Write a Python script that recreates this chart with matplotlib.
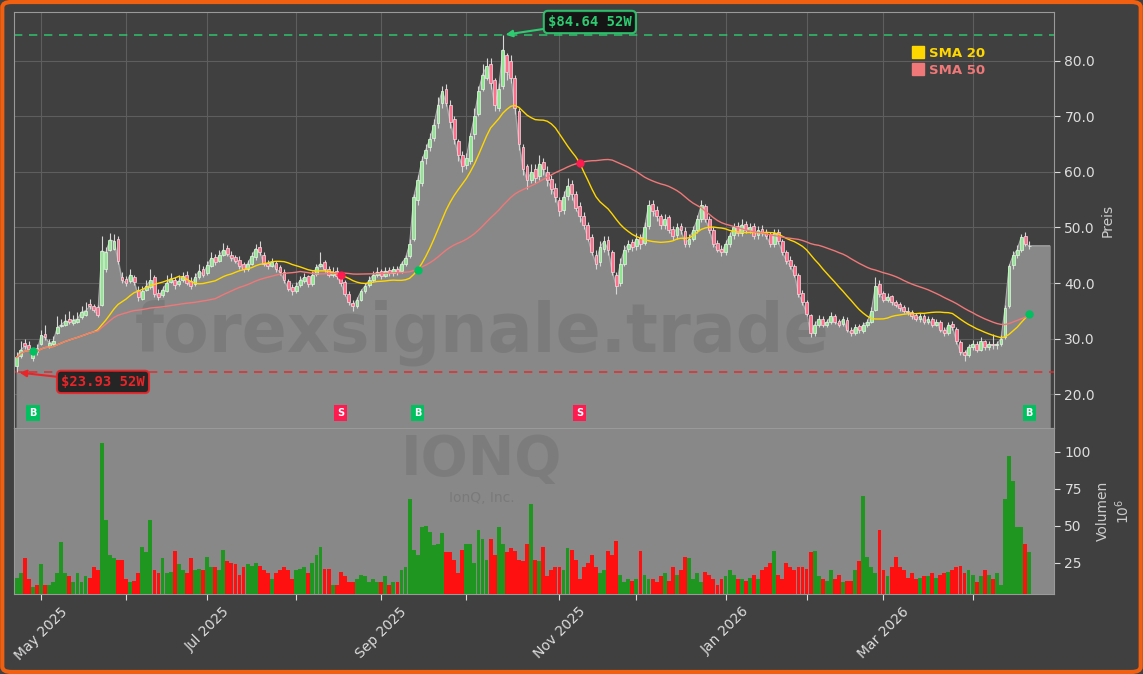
import numpy as np
import pandas as pd
import matplotlib
matplotlib.use("Agg")
import matplotlib.pyplot as plt
from matplotlib.patches import FancyBboxPatch
from matplotlib.lines import Line2D

ticker = "IONQ"
company = "IonQ, Inc."
watermark = "forexsignale.trade"
start_date = "2025-04-23"
holidays = ["2025-05-26", "2025-06-19", "2025-07-04", "2025-09-01", "2025-11-27",
            "2025-12-25", "2026-01-01", "2026-01-19", "2026-02-16", "2026-04-03"]

opens = [
    25.0, 26.8, 29.2, 28.8, 26.5, 28.3, 29.0, 30.9, 28.6, 29.0,
    31.0, 32.3, 32.4, 33.5, 32.8, 33.0, 33.8, 34.2, 36.3, 35.9,
    35.6, 36.0, 42.5, 46.0, 46.2, 48.0, 41.0, 40.8, 40.3, 41.0,
    38.8, 37.2, 38.8, 39.2, 41.0, 38.2, 37.8, 38.6, 40.2, 40.6,
    39.8, 40.5, 41.5, 40.4, 39.8, 41.0, 42.5, 41.8, 43.0, 44.6,
    44.0, 45.0, 46.3, 45.0, 44.6, 44.2, 43.4, 42.6, 43.4, 44.6,
    46.4, 45.0, 43.6, 43.1, 43.6, 42.8, 42.0, 40.4, 39.2, 38.6,
    39.6, 40.4, 41.2, 39.9, 41.6, 43.0, 43.8, 42.6, 41.4, 42.2,
    41.0, 40.2, 38.0, 36.4, 35.9, 37.0, 38.6, 39.6, 40.6, 41.5,
    42.1, 41.3, 42.3, 41.8, 42.6, 42.1, 43.4, 44.8, 48.0, 55.0,
    58.0, 62.5, 64.5, 66.2, 68.8, 72.5, 75.0, 72.0, 69.5, 65.5,
    63.0, 61.2, 62.0, 66.8, 70.5, 75.0, 77.0, 79.5, 76.5, 71.5,
    75.5, 81.0, 80.0, 77.0, 71.0, 64.5, 61.0, 58.6, 60.5, 59.2,
    61.8, 60.0, 58.8, 57.2, 55.0, 53.2, 55.6, 57.8, 56.0, 53.8,
    52.0, 50.5, 48.2, 45.0, 43.8, 46.2, 47.8, 45.5, 41.5, 40.0,
    43.5, 46.2, 47.4, 46.6, 48.2, 47.2, 50.2, 54.2, 53.2, 52.0,
    50.4, 51.8, 49.8, 48.6, 50.2, 49.4, 47.0, 48.0, 49.6, 51.6,
    53.8, 51.5, 49.6, 47.2, 46.2, 45.6, 47.0, 48.6, 50.2, 49.0,
    50.6, 49.6, 50.2, 48.6, 49.8, 49.2, 48.8, 47.0, 49.2, 47.6,
    45.6, 44.2, 43.0, 41.5, 38.2, 36.5, 34.2, 31.0, 32.4, 33.6,
    32.5, 33.0, 34.0, 33.2, 32.6, 33.4, 31.6, 31.0, 32.2, 31.4,
    32.4, 33.0, 35.2, 39.8, 38.2, 37.0, 37.6, 36.6, 36.2, 35.6,
    35.0, 34.8, 34.2, 33.5, 34.0, 33.0, 33.6, 32.5, 33.0, 31.6,
    31.0, 32.6, 31.8, 29.4, 27.6, 27.0, 28.4, 29.0, 28.0, 29.5,
    28.5, 29.0, 28.8, 29.0, 30.2, 35.8, 43.2, 45.0, 46.0, 48.4,
    46.6]
highs = [
    27.5, 29.5, 30.0, 29.5, 28.0, 29.0, 31.5, 32.5, 30.0, 30.5,
    34.0, 33.5, 34.5, 35.0, 34.2, 34.8, 35.8, 36.5, 37.2, 36.2,
    36.0, 48.5, 46.5, 49.0, 48.8, 48.5, 42.0, 41.2, 42.5, 41.5,
    39.5, 39.5, 40.5, 42.5, 41.5, 39.0, 39.5, 41.5, 41.8, 41.0,
    41.5, 42.0, 42.2, 41.0, 41.8, 43.5, 43.0, 44.0, 45.5, 45.2,
    46.0, 47.2, 46.8, 45.8, 45.0, 44.8, 43.8, 44.2, 45.5, 47.0,
    47.5, 45.5, 44.2, 44.5, 44.0, 43.2, 42.5, 40.8, 39.8, 40.2,
    41.2, 41.8, 41.5, 42.2, 43.5, 45.5, 44.2, 43.0, 42.8, 42.8,
    41.5, 40.5, 38.5, 37.0, 37.5, 39.0, 40.0, 41.2, 42.2, 42.8,
    42.6, 42.8, 42.8, 43.0, 43.0, 44.0, 45.0, 48.0, 56.0, 59.5,
    62.8, 65.0, 67.0, 69.5, 73.5, 75.5, 75.8, 73.0, 70.0, 66.0,
    63.8, 63.5, 67.0, 71.5, 75.5, 79.5, 80.5, 80.5, 77.0, 76.0,
    84.64, 81.5, 81.0, 77.5, 71.5, 65.0, 61.5, 61.5, 61.5, 63.0,
    62.5, 61.0, 59.5, 58.0, 55.5, 56.5, 59.0, 58.5, 56.5, 54.5,
    52.8, 51.0, 48.8, 46.0, 47.5, 48.5, 48.5, 46.0, 42.0, 44.5,
    46.8, 47.8, 48.0, 49.0, 48.8, 51.0, 55.0, 55.0, 53.8, 52.5,
    52.5, 52.2, 50.2, 50.8, 50.8, 50.0, 48.8, 50.2, 52.2, 55.0,
    54.2, 52.0, 50.0, 47.8, 46.8, 47.8, 49.2, 50.8, 51.0, 51.5,
    51.2, 50.8, 50.8, 50.2, 50.5, 49.8, 49.2, 49.8, 49.8, 48.0,
    46.0, 44.8, 43.5, 41.8, 38.8, 37.0, 34.5, 33.2, 34.2, 34.0,
    33.6, 34.8, 34.4, 33.6, 34.0, 33.8, 32.0, 32.6, 32.6, 33.0,
    33.6, 35.6, 41.0, 40.5, 38.6, 38.2, 37.8, 37.0, 36.6, 36.0,
    35.6, 35.2, 34.6, 34.6, 34.4, 34.0, 33.8, 33.6, 33.4, 32.0,
    33.0, 33.2, 32.0, 29.8, 28.0, 29.0, 29.8, 29.5, 30.2, 29.8,
    29.6, 30.8, 29.6, 30.6, 36.0, 43.5, 45.8, 46.8, 48.8, 49.2,
    47.6]
lows = [
    23.93, 26.5, 28.2, 27.8, 26.0, 27.0, 28.8, 29.8, 28.3, 28.8,
    30.8, 32.0, 32.2, 32.6, 32.5, 32.8, 33.5, 34.0, 35.4, 34.8,
    33.8, 35.8, 42.0, 45.8, 46.0, 43.5, 40.0, 39.5, 40.0, 39.6,
    36.8, 37.0, 38.5, 39.0, 37.5, 37.0, 37.5, 38.3, 40.0, 39.0,
    39.5, 40.2, 39.6, 39.0, 39.5, 40.8, 41.0, 41.5, 42.8, 43.2,
    43.8, 44.8, 44.8, 44.0, 43.6, 42.6, 42.0, 42.2, 43.2, 44.2,
    45.0, 43.0, 42.6, 42.8, 42.0, 41.5, 40.0, 38.5, 37.8, 38.2,
    39.2, 40.0, 39.2, 39.5, 41.2, 42.8, 42.0, 41.0, 41.0, 40.8,
    39.5, 37.6, 36.0, 35.0, 35.5, 36.8, 38.2, 39.2, 40.2, 41.0,
    40.8, 41.0, 41.2, 41.2, 41.5, 41.8, 43.0, 44.5, 47.5, 54.0,
    57.5, 61.5, 63.8, 65.5, 68.0, 71.5, 71.8, 68.0, 65.0, 62.0,
    60.0, 60.5, 61.5, 66.0, 70.0, 74.5, 76.5, 75.0, 71.0, 71.0,
    75.0, 76.5, 76.0, 70.5, 64.0, 59.5, 57.0, 58.0, 58.0, 58.5,
    59.5, 57.5, 56.0, 54.5, 52.0, 52.5, 55.0, 55.0, 53.0, 51.0,
    49.8, 47.5, 45.0, 42.5, 43.0, 45.5, 45.0, 41.5, 38.0, 39.5,
    43.0, 45.5, 45.8, 46.0, 46.2, 46.8, 49.8, 52.0, 51.2, 49.8,
    49.8, 49.0, 47.8, 48.0, 48.8, 46.5, 46.5, 47.5, 49.0, 51.0,
    51.0, 49.0, 46.5, 45.5, 44.8, 45.0, 46.5, 48.0, 48.5, 48.5,
    49.0, 49.0, 48.0, 48.0, 48.5, 48.0, 46.5, 46.5, 47.0, 45.0,
    43.5, 42.5, 41.0, 37.5, 36.0, 34.0, 30.2, 30.5, 32.0, 32.0,
    32.0, 32.6, 32.6, 32.0, 32.2, 31.2, 30.5, 30.6, 31.0, 31.0,
    32.0, 32.8, 35.0, 37.5, 36.5, 36.6, 36.0, 35.6, 35.0, 34.6,
    34.2, 33.6, 33.2, 33.0, 32.6, 32.6, 32.0, 32.2, 31.2, 30.5,
    30.6, 31.5, 29.0, 27.0, 26.0, 26.6, 28.0, 27.6, 27.8, 28.0,
    28.0, 28.2, 28.2, 28.6, 30.0, 35.5, 42.5, 44.5, 45.6, 46.6,
    46.2]
closes = [
    26.6, 28.0, 28.6, 28.2, 27.2, 27.6, 30.6, 30.2, 29.2, 29.5,
    32.0, 32.5, 33.2, 33.0, 33.4, 33.5, 34.8, 35.0, 35.8, 35.2,
    34.2, 45.8, 45.5, 47.8, 47.5, 44.0, 40.5, 40.0, 41.5, 40.2,
    37.5, 38.5, 39.5, 40.5, 38.0, 37.5, 38.8, 40.0, 40.8, 39.6,
    40.4, 41.2, 40.0, 39.5, 41.0, 42.2, 41.5, 43.2, 44.5, 43.8,
    45.0, 46.0, 45.2, 44.5, 44.0, 43.0, 42.5, 43.5, 44.8, 46.2,
    45.5, 43.5, 43.0, 43.8, 42.5, 42.0, 40.5, 39.0, 38.5, 39.5,
    40.5, 41.0, 39.8, 41.5, 42.8, 43.5, 42.5, 41.5, 42.0, 41.2,
    40.0, 38.0, 36.5, 35.8, 37.0, 38.5, 39.5, 40.5, 41.5, 42.0,
    41.2, 42.2, 41.8, 42.5, 42.0, 43.5, 44.5, 47.0, 55.5, 58.5,
    62.0, 64.0, 66.0, 68.5, 72.0, 74.5, 72.5, 69.0, 66.0, 63.0,
    61.0, 62.5, 66.5, 70.0, 74.5, 77.5, 79.0, 76.0, 72.0, 75.0,
    82.0, 78.0, 77.0, 71.5, 65.0, 60.5, 58.5, 60.0, 59.0, 61.5,
    60.5, 58.5, 57.0, 55.5, 53.0, 55.5, 57.5, 56.0, 53.5, 52.0,
    50.5, 48.0, 45.5, 43.5, 46.5, 47.5, 46.0, 42.0, 39.5, 43.5,
    46.0, 47.0, 46.5, 48.0, 47.0, 50.0, 54.0, 53.0, 52.0, 50.5,
    51.5, 49.5, 48.5, 50.0, 49.5, 47.0, 48.0, 49.5, 51.5, 54.0,
    51.5, 49.5, 47.0, 46.0, 45.5, 47.0, 48.5, 50.0, 49.0, 50.5,
    49.5, 50.0, 48.5, 49.5, 49.0, 48.5, 47.0, 49.0, 47.5, 45.5,
    44.0, 43.0, 41.5, 38.0, 36.5, 34.5, 31.0, 32.5, 33.5, 32.5,
    33.0, 34.0, 33.0, 32.5, 33.5, 31.5, 31.0, 32.0, 31.5, 32.5,
    33.0, 35.0, 39.5, 38.0, 37.0, 37.5, 36.5, 36.0, 35.5, 35.0,
    34.8, 34.0, 33.5, 34.0, 33.0, 33.5, 32.5, 33.0, 31.5, 31.0,
    32.5, 32.0, 29.5, 27.5, 27.0, 28.5, 29.0, 28.0, 29.5, 28.5,
    29.0, 28.8, 29.0, 30.0, 35.5, 43.0, 45.0, 46.0, 48.3, 47.0,
    46.7]
# volume in millions
volumes = [
    15, 18, 28, 14, 9, 10, 24, 10, 10, 12,
    18, 39, 18, 16, 12, 18, 12, 16, 15, 22,
    20, 106, 54, 30, 28, 27, 27, 14, 12, 13,
    18, 36, 32, 54, 20, 18, 28, 18, 19, 33,
    24, 20, 18, 28, 20, 21, 20, 29, 22, 22,
    20, 34, 26, 25, 24, 17, 22, 24, 23, 25,
    23, 20, 18, 14, 18, 20, 22, 20, 14, 20,
    21, 22, 18, 25, 30, 36, 21, 21, 10, 10,
    19, 16, 12, 12, 14, 17, 16, 12, 14, 12,
    12, 16, 10, 12, 12, 20, 22, 68, 34, 30,
    49, 50, 46, 37, 38, 45, 32, 32, 27, 18,
    34, 38, 38, 25, 47, 41, 27, 41, 30, 49,
    38, 32, 35, 33, 27, 26, 38, 65, 27, 26,
    36, 16, 20, 22, 22, 20, 35, 34, 27, 14,
    22, 25, 30, 22, 18, 20, 33, 30, 40, 17,
    12, 14, 13, 14, 33, 17, 14, 14, 12, 16,
    18, 13, 22, 17, 20, 29, 28, 14, 18, 12,
    19, 17, 14, 10, 14, 16, 20, 17, 14, 14,
    13, 15, 17, 14, 20, 22, 25, 33, 17, 14,
    25, 22, 20, 22, 22, 21, 32, 33, 16, 14,
    13, 20, 14, 17, 12, 13, 13, 20, 26, 70,
    29, 22, 18, 47, 20, 16, 22, 29, 22, 20,
    15, 18, 14, 15, 16, 16, 18, 15, 17, 18,
    19, 20, 22, 23, 18, 20, 17, 12, 16, 20,
    17, 14, 18, 10, 68, 97, 80, 49, 49, 38,
    32]

signal_idx = [4, 80, 99, 139, 250]
signal_kind = ["B", "S", "B", "S", "B"]

high_52w = 84.64
low_52w = 23.93

BG = "#404040"
FILL = "#888888"
TXT = "#dddddd"
UP = "#8fe88f"
DOWN = "#ff6f8c"
GREEN = "#2ecc71"
RED = "#e8262a"


def trading_days(start, n):
    return pd.bdate_range(start, periods=n, freq="C", holidays=holidays)


def month_ticks(dates):
    pos, labels = [], []
    for i in range(1, len(dates)):
        if dates[i].month != dates[i - 1].month:
            pos.append(i)
            labels.append(dates[i].strftime("%b %Y"))
    return pos, labels


def draw_candles(ax, x, o, h, l, c):
    up = c >= o
    ax.vlines(x, l, h, color="#d6d6d6", lw=0.8, zorder=3)
    body = np.where(np.abs(c - o) < 0.15, 0.15, c - o)
    ax.bar(x[up], body[up], bottom=o[up], width=0.7, color=UP,
           edgecolor="#e6f5e6", linewidth=0.5, zorder=4)
    ax.bar(x[~up], body[~up], bottom=o[~up], width=0.7, color=DOWN,
           edgecolor="#f5dde3", linewidth=0.5, zorder=4)


o = np.array(opens)
h = np.array(highs)
l = np.array(lows)
c = np.array(closes)
v = np.array(volumes, dtype=float)
n = len(c)
x = np.arange(n)
dates = trading_days(start_date, n)

sma20 = pd.Series(c).rolling(20, min_periods=1).mean().values
sma50 = pd.Series(c).rolling(50, min_periods=1).mean().values

fig = plt.figure(figsize=(11.43, 6.74), dpi=100, facecolor=BG)
ax = fig.add_axes([0.01225, 0.3650, 0.9099, 0.6172], facecolor=BG)
axv = fig.add_axes([0.01225, 0.1187, 0.9099, 0.2463], facecolor=FILL, sharex=ax)

# price panel
xf = np.append(x, n - 1 + 5)
cf = np.append(c, c[-1])
ax.fill_between(xf, cf, 0, color=FILL, zorder=1)
ax.plot(xf, cf, color="#ababab", lw=0.8, zorder=1.2)
draw_candles(ax, x, o, h, l, c)
ax.plot(x, sma20, color="#ffd700", lw=1.0, zorder=5)
ax.plot(x, sma50, color="#f07878", lw=1.0, zorder=5)

ax.axhline(high_52w, color=GREEN, ls=(0, (5, 4)), lw=1.2, alpha=0.85, zorder=2)
ax.axhline(low_52w, color=RED, ls=(0, (5, 4)), lw=1.2, alpha=0.85, zorder=2)

hi_i = int(np.argmax(h))
lo_i = int(np.argmin(l))
ax.annotate(f"${high_52w:.2f} 52W", xy=(hi_i, high_52w), xytext=(hi_i + 21.5, 87.0),
            ha="center", va="center", color=GREEN, fontsize=10, fontweight="bold",
            family="DejaVu Sans Mono",
            bbox=dict(boxstyle="round,pad=0.3", fc="#111111", ec=GREEN, lw=1.5, alpha=0.9),
            arrowprops=dict(arrowstyle="-|>", color=GREEN, lw=1.5, shrinkA=0, shrinkB=2),
            zorder=10)
ax.annotate(f"${low_52w:.2f} 52W", xy=(lo_i, low_52w), xytext=(lo_i + 21.3, 22.2),
            ha="center", va="center", color=RED, fontsize=10, fontweight="bold",
            family="DejaVu Sans Mono",
            bbox=dict(boxstyle="round,pad=0.3", fc="#1a1a1a", ec=RED, lw=1.5, alpha=0.9),
            arrowprops=dict(arrowstyle="-|>", color=RED, lw=1.5, shrinkA=0, shrinkB=2),
            zorder=10)

for i, kind in zip(signal_idx, signal_kind):
    col = "#00c060" if kind == "B" else "#ff1a50"
    ax.plot(i, sma20[i], "o", color=col, ms=5, zorder=8)
    ax.text(i, 16.6, kind, ha="center", va="center", color="white", fontsize=7,
            fontweight="bold", zorder=8,
            bbox=dict(boxstyle="square,pad=0.3", fc=col, ec="none"))

ax.text(0.45, 0.23, watermark, transform=ax.transAxes, ha="center", va="center",
        fontsize=48, fontweight="bold", color="#505050", alpha=0.22, zorder=1.5)

ax.set_ylim(13.9, 88.8)
ax.set_xlim(-0.67, 256.1)
ax.set_yticks([20, 30, 40, 50, 60, 70, 80])
ax.yaxis.set_major_formatter("{x:.1f}")
ax.yaxis.tick_right()
ax.yaxis.set_label_position("right")
ax.set_ylabel("Preis", color="#cccccc", fontsize=10)
ax.tick_params(axis="y", colors=TXT, labelsize=10, length=4)
ax.grid(True, color="#5e5e5e", lw=0.8, zorder=0)
ax.set_axisbelow(True)

leg = ax.legend(handles=[Line2D([], [], ls="none", marker="s", ms=8, color="#ffd700"),
                         Line2D([], [], ls="none", marker="s", ms=8, color="#f07878")],
                labels=["SMA 20", "SMA 50"], loc="upper right",
                bbox_to_anchor=(0.945, 0.945), frameon=False, handlelength=0.8,
                handletextpad=0.4, labelspacing=0.3, prop=dict(weight="bold", size=9.5))
for t, col in zip(leg.get_texts(), ["#ffd700", "#f07878"]):
    t.set_color(col)

# volume panel
vcol = np.where(c >= o, "#1f961f", "#ff1010")
axv.bar(x, v, width=0.95, color=vcol, zorder=3)
axv.set_ylim(4, 116)
axv.set_yticks([25, 50, 75, 100])
axv.yaxis.tick_right()
axv.yaxis.set_label_position("right")
axv.set_ylabel("Volumen\n$10^{6}$", color="#cccccc", fontsize=10)
axv.tick_params(axis="y", colors=TXT, labelsize=10, length=4)
axv.text(0.45, 0.81, ticker, transform=axv.transAxes, ha="center", va="center",
         fontsize=40, fontweight="bold", color="#505050", alpha=0.2, zorder=1)
axv.text(0.45, 0.58, company, transform=axv.transAxes, ha="center", va="center",
         fontsize=10, color="#505050", alpha=0.25, zorder=1)

pos, labels = month_ticks(dates)
axv.set_xticks(pos[0::2])
axv.set_xticklabels(labels[0::2], rotation=45, ha="center")
axv.set_xticks(pos[1::2], minor=True)
ax.set_xticks(pos, minor=False)
axv.tick_params(axis="x", which="both", colors=TXT, labelsize=10, length=4)
ax.tick_params(axis="x", length=0, labelbottom=False)
for a in (ax, axv):
    for s in a.spines.values():
        s.set_color("#9a9a9a")

fig.patches.append(FancyBboxPatch((0.002, 0.003), 0.996, 0.994, transform=fig.transFigure,
                                  boxstyle="round,pad=0,rounding_size=0.008",
                                  fc="none", ec="#f06010", lw=3))

fig.savefig("out.png", dpi=100, facecolor=BG)
